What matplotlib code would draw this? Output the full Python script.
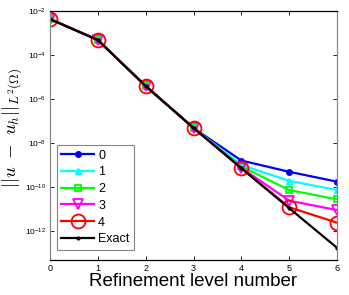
import matplotlib
matplotlib.use("Agg")
import matplotlib.pyplot as plt
import numpy as np

plt.rcParams['font.family'] = ['Liberation Sans', 'DejaVu Sans']
plt.rcParams['mathtext.fontset'] = 'cm'

levels = [0, 1, 2, 3, 4, 5, 6]
# log10 of the error
common = [-2.38, -3.33, -5.42, -7.32]
err0 = common + [-8.80, -9.31, -9.76]
err1 = common + [-9.00, -9.72, -10.14]
err2 = common + [-9.07, -10.14, -10.56]
err3 = common + [-9.13, -10.62, -11.05]
err4 = common + [-9.15, -10.92, -11.62]
exact = common + [-9.15, -10.96, -12.76]

series = [
    ('0', err0, dict(color='#0000ff', marker='o', ms=4)),
    ('1', err1, dict(color='#00ffff', marker='^', ms=5)),
    ('2', err2, dict(color='#00ff00', marker='s', ms=4.5, mfc='none', mew=1.3)),
    ('3', err3, dict(color='#ff00ff', marker='v', ms=6.5, mfc='none', mew=1.3)),
    ('4', err4, dict(color='#ff0000', marker='o', ms=10, mfc='none', mew=1.3)),
    ('Exact', exact, dict(color='black', marker='.', ms=4)),
]

fig = plt.figure(figsize=(3.49, 2.95), dpi=100)
ax = fig.add_axes([0.1433, 0.1197, 0.8223, 0.844])

for name, vals, style in series:
    ax.semilogy(levels, 10.0 ** np.array(vals), label=name, lw=1.6, **style)

ax.set_xlim(0, 6)
ax.set_ylim(10 ** -13.3, 1e-2)
ax.set_xticks(levels)
ax.set_yticks([10.0 ** k for k in range(-12, -1, 2)])
ax.yaxis.set_minor_locator(matplotlib.ticker.NullLocator())
ax.tick_params(which='both', direction='in', top=True, right=True,
               length=3, width=0.6, labelsize=6, pad=3)
ax.tick_params(axis='x', labelsize=6.5)

for side in ['left', 'right']:
    ax.spines[side].set_color('#888888')
for side in ['top', 'bottom']:
    ax.spines[side].set_color('black')
for s in ax.spines.values():
    s.set_linewidth(0.9)

ax.set_xlabel('Refinement level number', fontsize=13.5, labelpad=0)
ax.set_ylabel(r'$||u\ -\ u_h||_{L^2(\Omega)}$', fontsize=13.5)
ax.yaxis.set_label_coords(-0.09, 0.53)

leg = ax.legend(loc='lower left', bbox_to_anchor=(0.024, 0.04), fontsize=9,
                handlelength=2.6, fancybox=False, borderaxespad=0,
                labelspacing=0.38, handletextpad=0.35, borderpad=0.35)
leg.get_frame().set_edgecolor('#666666')
leg.get_frame().set_linewidth(0.8)

fig.savefig('out.png', dpi=100)
